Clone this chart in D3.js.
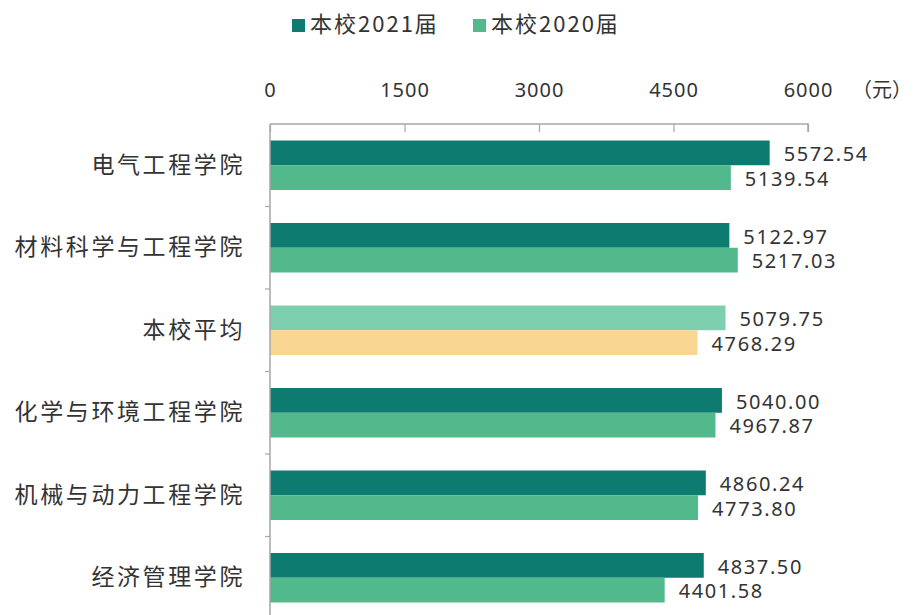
<!DOCTYPE html>
<html><head><meta charset="utf-8">
<script src="https://cdn.jsdelivr.net/npm/d3@7"></script>
<style>body{margin:0;background:#fff}svg{display:block}</style>
</head><body>
<svg id="c" width="916" height="615"></svg>
<script>
const categories = ["电气工程学院","材料科学与工程学院","本校平均","化学与环境工程学院","机械与动力工程学院","经济管理学院"];
const seriesNames = ["本校2021届","本校2020届"];
const values2021 = [5572.54, 5122.97, 5079.75, 5040.00, 4860.24, 4837.50];
const values2020 = [5139.54, 5217.03, 4768.29, 4967.87, 4773.80, 4401.58];
const tickValues = [0, 1500, 3000, 4500, 6000];
const unitLabel = "（元）";

const svg = d3.select("#c");
const fontCJK = "'Noto Sans CJK SC','Noto Sans',sans-serif";
const fontNum = "'Noto Sans','DejaVu Sans',sans-serif";
const textColor = "#333";
const axisColor = "#a6a6a6";
const dark = "#0d7b6f", light = "#52b98c", avgTop = "#7dcfae", avgBottom = "#f9d691";

const x = d3.scaleLinear().domain([0, 6000]).range([270, 808]);
const y = d3.scaleBand().domain(categories).range([124, 619]).paddingInner(0.4).paddingOuter(0.2);
const ySub = d3.scaleBand().domain(seriesNames).range([0, y.bandwidth()]);

const rows = [];
categories.forEach((c, i) => {
  rows.push({cat: c, s: seriesNames[0], v: values2021[i]});
  rows.push({cat: c, s: seriesNames[1], v: values2020[i]});
});
const isAvg = c => c === "本校平均";
function color(d) {
  if (isAvg(d.cat)) return d.s === seriesNames[0] ? avgTop : avgBottom;
  return d.s === seriesNames[0] ? dark : light;
}

// bars
svg.append("g").selectAll("rect").data(rows).join("rect")
  .attr("x", x(0))
  .attr("y", d => y(d.cat) + ySub(d.s))
  .attr("width", d => x(d.v) - x(0))
  .attr("height", ySub.bandwidth())
  .attr("fill", color);

// value labels
svg.append("g").selectAll("text").data(rows).join("text")
  .attr("x", d => x(d.v) + 14)
  .attr("y", d => y(d.cat) + ySub(d.s) + ySub.bandwidth() / 2 + 3)
  .attr("dominant-baseline", "middle")
  .attr("font-family", fontNum)
  .attr("font-size", 20)
  .attr("letter-spacing", 1.6)
  .attr("fill", textColor)
  .text(d => d.v.toFixed(2));

// top axis
const xAxis = d3.axisTop(x).tickValues(tickValues).tickSize(-8).tickPadding(0).tickFormat(d3.format("d"));
const gx = svg.append("g").attr("transform", "translate(0,124)").call(xAxis);
gx.select(".domain").attr("stroke", axisColor).attr("stroke-width", 1.5).attr("d", `M${x(0)},0H${x(6000)}V8`);
gx.selectAll(".tick line").attr("stroke", axisColor).attr("stroke-width", 1.2);
gx.selectAll(".tick text")
  .attr("y", -27)
  .attr("font-family", fontNum)
  .attr("font-size", 20)
  .attr("letter-spacing", 1)
  .attr("fill", textColor);

svg.append("text")
  .attr("x", 852).attr("y", 97)
  .attr("font-family", fontCJK).attr("font-size", 20)
  .attr("fill", textColor)
  .text(unitLabel);

// left axis
const yAxis = d3.axisLeft(y).tickSize(0).tickFormat("");
const gy = svg.append("g").attr("transform", `translate(${x(0)},0)`).call(yAxis);
gy.select(".domain").attr("stroke", axisColor).attr("stroke-width", 1.5).attr("d", `M0,124V619`);
const step = y.step();
const sepYs = categories.slice(1).map(c => y(c) - (step - y.bandwidth()) / 2);
gy.selectAll(".sep").data(sepYs).join("line")
  .attr("x1", -5).attr("x2", 0)
  .attr("y1", d => d).attr("y2", d => d)
  .attr("stroke", axisColor).attr("stroke-width", 1.2);

// category labels
svg.append("g").selectAll("text").data(categories).join("text")
  .attr("x", 245)
  .attr("y", c => y(c) + y.bandwidth() / 2 + 1)
  .attr("text-anchor", "end")
  .attr("dominant-baseline", "middle")
  .attr("font-family", fontCJK)
  .attr("font-size", 23)
  .attr("letter-spacing", 2.6)
  .attr("fill", textColor)
  .text(c => c);

// legend
const legendX = [292, 473];
const lg = svg.append("g").selectAll("g").data(seriesNames).join("g")
  .attr("transform", (d, i) => `translate(${legendX[i]},0)`);
lg.append("rect").attr("x", 0).attr("y", 19).attr("width", 13).attr("height", 13)
  .attr("fill", (d, i) => i === 0 ? dark : light);
lg.append("text").attr("x", 18).attr("y", 26)
  .attr("dominant-baseline", "middle")
  .attr("font-family", fontCJK).attr("font-size", 22)
  .attr("letter-spacing", 2)
  .attr("fill", textColor)
  .text(d => d);
</script>
</body></html>
